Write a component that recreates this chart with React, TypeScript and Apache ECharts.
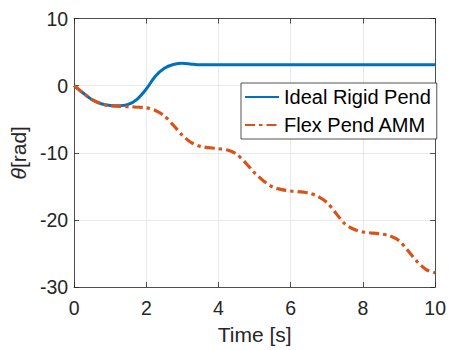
import React, { useEffect, useRef } from "react";
import * as echarts from "echarts";

const timeRigid = [0, 0.25, 0.5, 0.75, 1.0, 1.25, 1.5, 1.75, 2.0, 2.25, 2.5, 2.75, 3.0, 3.25, 3.5, 4, 5, 6, 7, 8, 9, 10];
const thetaRigid = [0, -1.1, -2.1, -2.7, -2.95, -3.0, -2.8, -2.0, -0.5, 1.4, 2.6, 3.15, 3.35, 3.2, 3.1, 3.1, 3.1, 3.1, 3.1, 3.1, 3.1, 3.1];

const timeFlex = [0, 0.25, 0.5, 0.75, 1.0, 1.5, 2.0, 2.25, 2.5, 2.75, 3.0, 3.25, 3.5, 4.0, 4.25, 4.5, 4.75, 5.0, 5.25, 5.5, 5.75, 6.0, 6.5, 6.75, 7.0, 7.25, 7.5, 7.75, 8.0, 8.5, 8.75, 9.0, 9.25, 9.5, 9.75, 10];
const thetaFlex = [0, -1.1, -2.1, -2.7, -3.0, -3.15, -3.3, -3.7, -4.5, -5.9, -7.4, -8.5, -9.05, -9.4, -9.6, -10.2, -11.5, -13.0, -14.2, -15.1, -15.5, -15.7, -16.0, -16.5, -17.4, -19.0, -20.6, -21.4, -21.8, -22.1, -22.4, -23.1, -24.6, -26.2, -27.4, -27.9];

const xTicks = { min: 0, max: 10, interval: 2 };
const yTicks = { min: -30, max: 10, interval: 10 };
const seriesNames = ["Ideal Rigid Pend", "Flex Pend AMM"];
const xName = "Time [s]";

const FONT = "'Liberation Sans', Arial, Helvetica, sans-serif";
const AX = "#262626";

export default function App() {
  const ref = useRef<HTMLDivElement>(null);
  useEffect(() => {
    const chart = echarts.init(ref.current!, null, { renderer: "svg" });
    const axisLine = { show: true, onZero: false, lineStyle: { color: AX, width: 0.8 } };
    const tick = { show: true, inside: true, length: 5, lineStyle: { color: AX, width: 0.8 } };
    chart.setOption({
      animation: false,
      textStyle: { fontFamily: FONT },
      grid: { left: 73, right: 11, top: 18.5, bottom: 62 },
      legend: {
        orient: "vertical",
        left: 241,
        top: 83,
        padding: [4, 6, 4, 3],
        itemGap: 8,
        itemWidth: 34,
        itemHeight: 14,
        backgroundColor: "#fff",
        borderColor: AX,
        borderWidth: 0.8,
        itemStyle: { opacity: 0 },
        textStyle: { fontSize: 20, color: "#000", lineHeight: 20, fontFamily: FONT },
        data: seriesNames,
      },
      xAxis: [
        {
          type: "value",
          ...xTicks,
          name: xName,
          nameLocation: "middle",
          nameGap: 37,
          nameTextStyle: { fontSize: 21, color: AX, fontFamily: FONT },
          axisLine,
          axisTick: tick,
          axisLabel: { fontSize: 19.5, color: AX, margin: 11, fontFamily: FONT },
          splitLine: { show: true, lineStyle: { color: "#e3e3e3", width: 0.8 } },
        },
        {
          type: "value",
          position: "top",
          ...xTicks,
          axisLine,
          axisTick: tick,
          axisLabel: { show: false },
          splitLine: { show: false },
        },
      ],
      yAxis: [
        {
          type: "value",
          ...yTicks,
          name: "{i|θ}[rad]",
          nameLocation: "middle",
          nameGap: 39,
          nameTextStyle: {
            fontSize: 21,
            color: AX,
            fontFamily: FONT,
            rich: { i: { fontStyle: "italic", fontSize: 21, color: AX, fontFamily: FONT } },
          },
          axisLine,
          axisTick: tick,
          axisLabel: { fontSize: 19.5, color: AX, margin: 6, fontFamily: FONT },
          splitLine: { show: true, lineStyle: { color: "#e3e3e3", width: 0.8 } },
        },
        {
          type: "value",
          position: "right",
          ...yTicks,
          axisLine,
          axisTick: tick,
          axisLabel: { show: false },
          splitLine: { show: false },
        },
      ],
      series: [
        {
          name: seriesNames[0],
          type: "line",
          xAxisIndex: 0,
          yAxisIndex: 0,
          showSymbol: false,
          symbol: "none",
          smooth: 0.3,
          data: timeRigid.map((t, i) => [t, thetaRigid[i]]),
          lineStyle: { color: "#0072BD", width: 3 },
          itemStyle: { color: "#0072BD" },
          z: 3,
        },
        {
          name: seriesNames[1],
          type: "line",
          xAxisIndex: 0,
          yAxisIndex: 0,
          showSymbol: false,
          symbol: "none",
          smooth: 0.3,
          data: timeFlex.map((t, i) => [t, thetaFlex[i]]),
          lineStyle: { color: "#D95319", width: 3.2, type: [10, 4, 3.5, 4] },
          itemStyle: { color: "#D95319" },
          z: 4,
        },
      ],
    });
    return () => chart.dispose();
  }, []);
  return (
    <div
      ref={ref}
      style={{ width: 449, height: 350, position: "absolute", left: 0, top: 0, overflow: "hidden" }}
    />
  );
}
